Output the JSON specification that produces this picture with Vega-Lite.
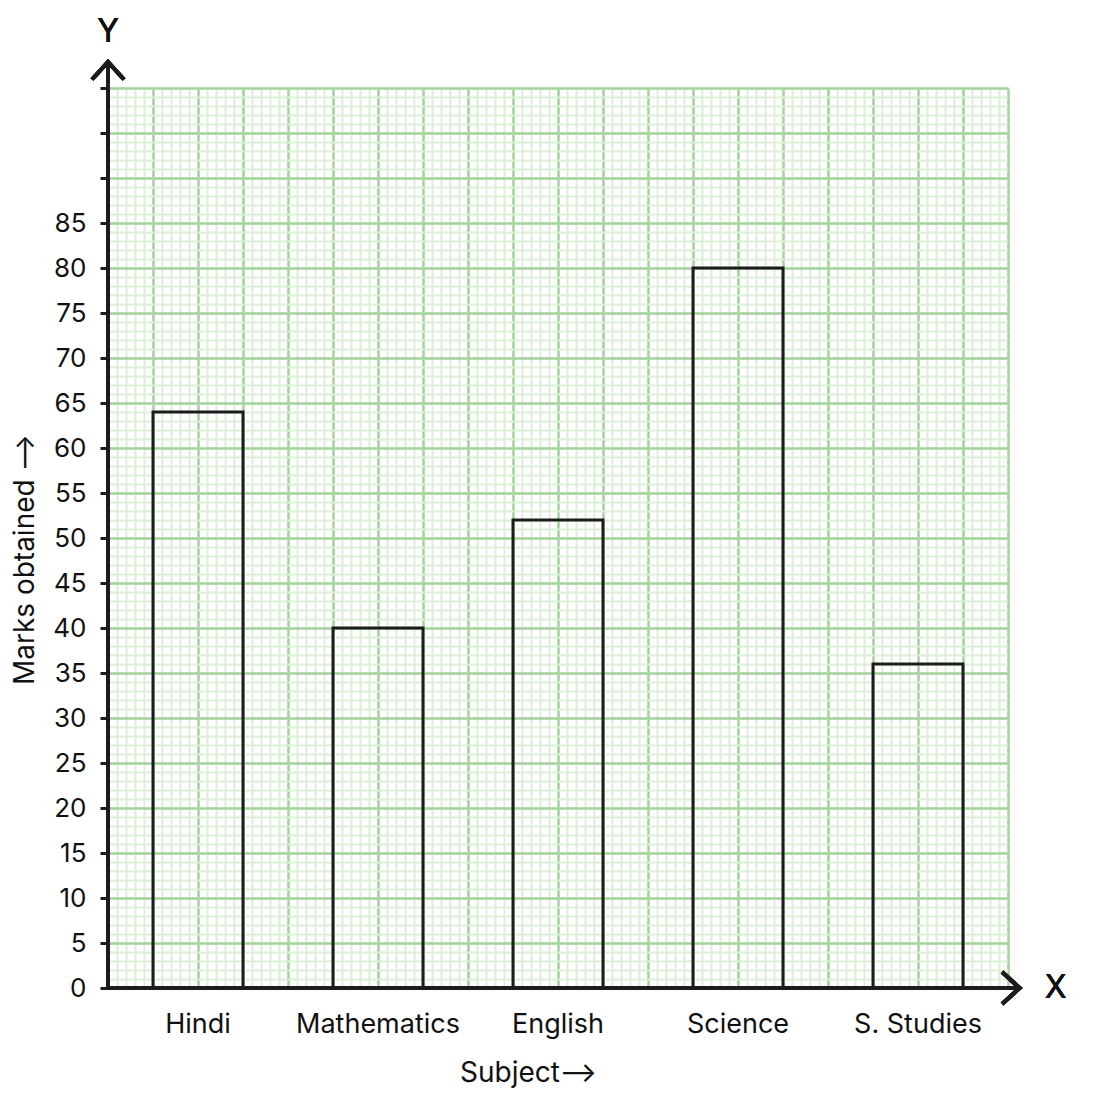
{
  "$schema": "https://vega.github.io/schema/vega-lite/v6.json",
  "width": 900,
  "height": 900,
  "autosize": {"type": "none"},
  "padding": {"left": 108, "top": 88, "right": 87, "bottom": 117},
  "background": "white",
  "config": {
    "font": "Inter",
    "view": {"stroke": null},
    "axis": {"labelFont": "Inter", "titleFont": "Inter"}
  },
  "data": {
    "values": [
      {"subject": "Hindi", "marks": 64},
      {"subject": "Mathematics", "marks": 40},
      {"subject": "English", "marks": 52},
      {"subject": "Science", "marks": 80},
      {"subject": "S. Studies", "marks": 36}
    ]
  },
  "layer": [
    {
      "mark": {"type": "point", "opacity": 0},
      "encoding": {
        "x": {
          "datum": 0, "type": "quantitative",
          "scale": {"domain": [0, 100], "nice": false},
          "axis": {"orient": "bottom", "grid": true, "tickCount": 100, "gridColor": "#dcf0d7", "gridWidth": 2, "gridOpacity": 1, "labels": false, "ticks": false, "domain": false, "title": null}
        },
        "y": {
          "datum": 0, "type": "quantitative",
          "scale": {"domain": [0, 100], "nice": false},
          "axis": {"orient": "left", "grid": true, "tickCount": 100, "gridColor": "#dcf0d7", "gridWidth": 2, "gridOpacity": 1, "labels": false, "ticks": false, "domain": false, "title": null}
        }
      }
    },
    {
      "mark": {"type": "point", "opacity": 0},
      "encoding": {
        "x": {
          "datum": 0, "type": "quantitative",
          "scale": {"domain": [0, 100], "nice": false},
          "axis": {"orient": "bottom", "grid": true, "tickCount": 20, "gridColor": "#a4d39d", "gridWidth": 2.5, "gridOpacity": 1, "labels": false, "ticks": false, "domain": false, "title": null}
        },
        "y": {
          "datum": 0, "type": "quantitative",
          "scale": {"domain": [0, 100], "nice": false},
          "axis": {"orient": "left", "grid": true, "tickCount": 20, "gridColor": "#a4d39d", "gridWidth": 2.5, "gridOpacity": 1, "labels": false, "ticks": false, "domain": false, "title": null}
        }
      }
    },
    {
      "mark": {"type": "bar", "fill": "transparent", "stroke": "#1c1c1c", "strokeWidth": 3},
      "encoding": {
        "x": {
          "field": "subject", "type": "nominal", "sort": null,
          "scale": {"paddingInner": 0.5, "paddingOuter": 0.25},
          "axis": {
            "orient": "bottom", "grid": false, "ticks": false, "domain": false,
            "labelAngle": 0, "labelFontSize": 27, "labelColor": "#111111", "labelPadding": 23,
            "title": "Subject⟶", "titleFontSize": 28, "titleFontWeight": "normal", "titleColor": "#111111",
            "titleX": 420, "titleY": 85, "titleBaseline": "middle", "titleAnchor": null
          }
        },
        "y": {
          "field": "marks", "type": "quantitative",
          "scale": {"domain": [0, 100], "nice": false},
          "axis": {
            "orient": "left", "grid": false, "domain": false,
            "values": [0, 5, 10, 15, 20, 25, 30, 35, 40, 45, 50, 55, 60, 65, 70, 75, 80, 85, 90, 95, 100],
            "labelExpr": "datum.value <= 85 ? datum.label : ''",
            "ticks": true, "tickSize": 8, "tickWidth": 3, "tickColor": "#1c1c1c",
            "labelFontSize": 26, "labelColor": "#111111", "labelPadding": 14,
            "title": "Marks obtained ⟶", "titleFontSize": 28, "titleFontWeight": "normal", "titleColor": "#111111",
            "titleAngle": 270, "titleX": -83, "titleY": 471, "titleBaseline": "middle", "titleAlign": "center"
          }
        }
      }
    },
    {
      "mark": {"type": "rule", "stroke": "#1c1c1c", "strokeWidth": 4},
      "encoding": {
        "x": {"datum": 0, "type": "quantitative", "scale": {"domain": [0, 100], "nice": false}, "axis": null},
        "y": {"datum": 0, "type": "quantitative", "scale": {"domain": [0, 100], "nice": false}, "axis": null},
        "y2": {"datum": 102.9}
      }
    },
    {
      "mark": {"type": "rule", "stroke": "#1c1c1c", "strokeWidth": 4},
      "encoding": {
        "x": {"datum": 0, "type": "quantitative", "scale": {"domain": [0, 100], "nice": false}, "axis": null},
        "x2": {"datum": 101.3},
        "y": {"datum": 0, "type": "quantitative", "scale": {"domain": [0, 100], "nice": false}, "axis": null}
      }
    },
    {
      "mark": {"type": "point", "shape": "M-1,1.1L0,0L1,1.1", "filled": false, "stroke": "#1c1c1c", "strokeWidth": 4, "size": 1024, "opacity": 1},
      "encoding": {
        "x": {"datum": 0, "type": "quantitative", "scale": {"domain": [0, 100], "nice": false}, "axis": null},
        "y": {"datum": 102.9, "type": "quantitative", "scale": {"domain": [0, 100], "nice": false}, "axis": null}
      }
    },
    {
      "mark": {"type": "point", "shape": "M-1.1,-1L0,0L-1.1,1", "filled": false, "stroke": "#1c1c1c", "strokeWidth": 4, "size": 1024, "opacity": 1},
      "encoding": {
        "x": {"datum": 101.3, "type": "quantitative", "scale": {"domain": [0, 100], "nice": false}, "axis": null},
        "y": {"datum": 0, "type": "quantitative", "scale": {"domain": [0, 100], "nice": false}, "axis": null}
      }
    },
    {
      "mark": {"type": "text", "text": "Y", "fontSize": 32, "color": "#111111", "baseline": "middle", "align": "center"},
      "encoding": {
        "x": {"datum": 0, "type": "quantitative", "scale": {"domain": [0, 100], "nice": false}, "axis": null},
        "y": {"datum": 106.2, "type": "quantitative", "scale": {"domain": [0, 100], "nice": false}, "axis": null}
      }
    },
    {
      "mark": {"type": "text", "text": "X", "fontSize": 32, "color": "#111111", "baseline": "middle", "align": "center"},
      "encoding": {
        "x": {"datum": 105.3, "type": "quantitative", "scale": {"domain": [0, 100], "nice": false}, "axis": null},
        "y": {"datum": 0, "type": "quantitative", "scale": {"domain": [0, 100], "nice": false}, "axis": null}
      }
    }
  ],
  "resolve": {
    "scale": {"x": "independent", "y": "independent"},
    "axis": {"x": "independent", "y": "independent"}
  }
}
